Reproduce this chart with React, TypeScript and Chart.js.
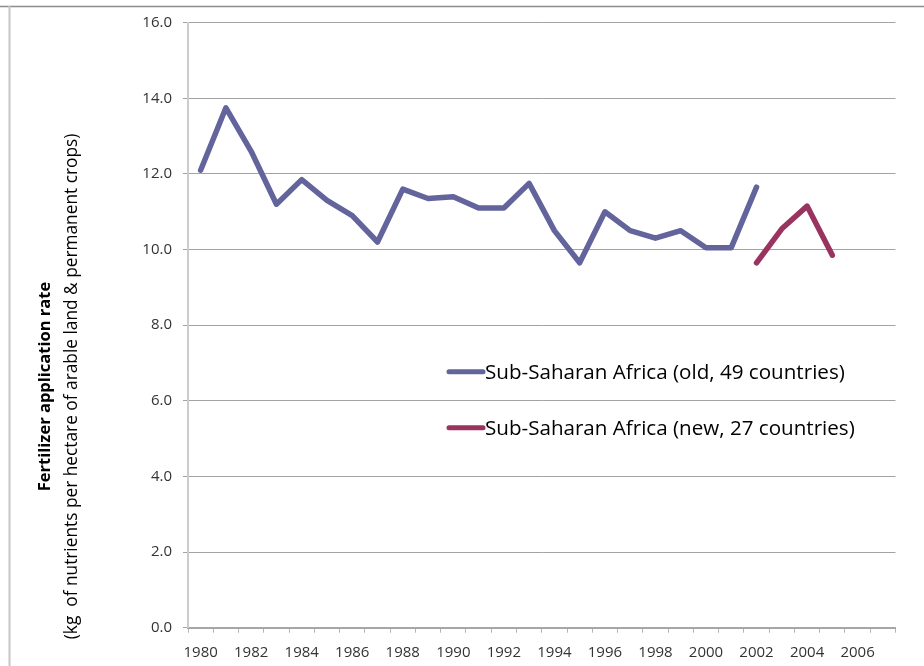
import React, { useEffect, useRef } from "react";
import { Chart, registerables } from "chart.js";

Chart.register(...registerables);

const years: string[] = [
  "1980", "1981", "1982", "1983", "1984", "1985", "1986", "1987", "1988", "1989",
  "1990", "1991", "1992", "1993", "1994", "1995", "1996", "1997", "1998", "1999",
  "2000", "2001", "2002", "2003", "2004", "2005", "2006", "2007",
];

const oldSeries: (number | null)[] = [
  12.1, 13.75, 12.6, 11.2, 11.85, 11.3, 10.9, 10.2, 11.6, 11.35,
  11.4, 11.1, 11.1, 11.75, 10.5, 9.65, 11.0, 10.5, 10.3, 10.5,
  10.05, 10.05, 11.65, null, null, null, null, null,
];

const newSeries: (number | null)[] = [
  null, null, null, null, null, null, null, null, null, null,
  null, null, null, null, null, null, null, null, null, null,
  null, null, 9.65, 10.55, 11.15, 9.85, null, null,
];

const seriesLabels = [
  "Sub-Saharan Africa (old, 49 countries)",
  "Sub-Saharan Africa (new, 27 countries)",
];
const seriesColors = ["#63649c", "#993360"];

const yTitleBold = "Fertilizer application rate";
const yTitleRegular = "(kg  of nutrients per hectare of arable land & permanent crops)";

const FONT = "'Open Sans', 'DejaVu Sans', sans-serif";

const framePlugin = {
  id: "frame",
  beforeDraw(chart: any) {
    const ctx = chart.ctx;
    ctx.save();
    ctx.fillStyle = "#ffffff";
    ctx.fillRect(0, 0, chart.width, chart.height);
    ctx.strokeStyle = "#8c8c8c";
    ctx.lineWidth = 1.5;
    ctx.beginPath();
    ctx.moveTo(0, 6.5);
    ctx.lineTo(chart.width, 6.5);
    ctx.stroke();
    ctx.strokeStyle = "#c6c6c6";
    ctx.lineWidth = 2;
    ctx.beginPath();
    ctx.moveTo(9.5, 6);
    ctx.lineTo(9.5, chart.height);
    ctx.stroke();
    ctx.restore();
  },
};

const titlePlugin = {
  id: "yTitles",
  afterDraw(chart: any) {
    const ctx = chart.ctx;
    const cy = 386.5;
    ctx.save();
    ctx.fillStyle = "#000000";
    ctx.textAlign = "center";
    ctx.textBaseline = "alphabetic";
    ctx.translate(50, cy);
    ctx.rotate(-Math.PI / 2);
    ctx.font = `bold 16.5px ${FONT}`;
    ctx.fillText(yTitleBold, 0, 0);
    ctx.restore();
    ctx.save();
    ctx.fillStyle = "#000000";
    ctx.textAlign = "center";
    ctx.textBaseline = "alphabetic";
    ctx.translate(77, cy);
    ctx.rotate(-Math.PI / 2);
    ctx.font = `17.3px ${FONT}`;
    ctx.fillText(yTitleRegular, 0, 0);
    ctx.restore();
  },
};

const legendPlugin = {
  id: "innerLegend",
  afterDatasetsDraw(chart: any) {
    const ctx = chart.ctx;
    const area = chart.chartArea;
    const x0 = area.left + 259;
    const y0 = area.top + 349;
    const gap = 56;
    ctx.save();
    chart.data.datasets.forEach((ds: any, i: number) => {
      const y = y0 + i * gap;
      ctx.strokeStyle = ds.borderColor;
      ctx.lineWidth = 5;
      ctx.lineCap = "round";
      ctx.beginPath();
      ctx.moveTo(x0 + 2, y);
      ctx.lineTo(x0 + 36, y);
      ctx.stroke();
      ctx.fillStyle = "#000000";
      ctx.font = `20.6px ${FONT}`;
      ctx.textAlign = "left";
      ctx.textBaseline = "middle";
      ctx.fillText(ds.label, x0 + 38, y + 1);
    });
    ctx.restore();
  },
};

export default function App() {
  const canvasRef = useRef<HTMLCanvasElement | null>(null);

  useEffect(() => {
    if (!canvasRef.current) return;
    const chart = new Chart(canvasRef.current, {
      type: "line",
      data: {
        labels: years,
        datasets: [
          {
            label: seriesLabels[0],
            data: oldSeries,
            borderColor: seriesColors[0],
            backgroundColor: seriesColors[0],
            borderWidth: 5.5,
            pointRadius: 0,
            borderCapStyle: "round",
            borderJoinStyle: "round",
            spanGaps: false,
            tension: 0,
          },
          {
            label: seriesLabels[1],
            data: newSeries,
            borderColor: seriesColors[1],
            backgroundColor: seriesColors[1],
            borderWidth: 5.5,
            pointRadius: 0,
            borderCapStyle: "round",
            borderJoinStyle: "round",
            spanGaps: false,
            tension: 0,
          },
        ],
      },
      options: {
        responsive: false,
        animation: false,
        layout: { padding: { left: 0, top: 22.7, right: 28.5, bottom: 0 } },
        plugins: {
          legend: { display: false },
          tooltip: { enabled: false },
          title: { display: false },
        },
        scales: {
          x: {
            type: "category",
            offset: true,
            grid: {
              offset: true,
              drawOnChartArea: false,
              drawTicks: true,
              tickLength: 5,
              color: "#b4b4b4",
              lineWidth: 1,
            },
            border: { color: "#a6a6a6", width: 2 },
            ticks: {
              autoSkip: false,
              maxRotation: 0,
              minRotation: 0,
              padding: 11,
              color: "#333333",
              font: { family: FONT, size: 15 },
              callback: (_v: any, i: number) => (i % 2 === 0 ? years[i] : ""),
            },
            afterFit: (s: any) => {
              s.height = 666 - 627.7;
            },
          },
          y: {
            min: 0,
            max: 16,
            grid: {
              color: "#a3a3a3",
              lineWidth: 1,
              tickLength: 5,
            },
            border: { color: "#cccccc", width: 2 },
            ticks: {
              stepSize: 2,
              padding: 11,
              color: "#333333",
              font: { family: FONT, size: 15 },
              callback: (v: any) => Number(v).toFixed(1),
            },
            afterFit: (s: any) => {
              s.width = 188;
            },
          },
        },
      },
      plugins: [framePlugin, titlePlugin, legendPlugin],
    });
    return () => chart.destroy();
  }, []);

  return (
    <div style={{ position: "fixed", left: 0, top: 0, width: 924, height: 666, background: "#fff" }}>
      <canvas ref={canvasRef} width={924} height={666} style={{ width: 924, height: 666, display: "block" }} />
    </div>
  );
}
